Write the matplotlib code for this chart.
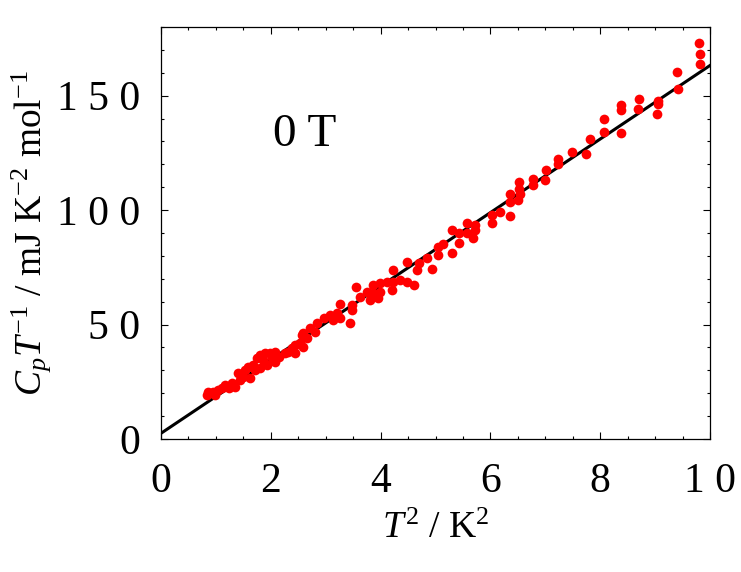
import matplotlib
matplotlib.use("Agg")
import matplotlib.pyplot as plt
from matplotlib.ticker import MultipleLocator

plt.rcParams["font.family"] = ["Liberation Serif", "DejaVu Serif"]
plt.rcParams["mathtext.fontset"] = "custom"
plt.rcParams["mathtext.rm"] = "Liberation Serif"
plt.rcParams["mathtext.it"] = "Liberation Serif:italic"

T2 = [
    0.83, 0.86, 0.95, 0.98, 1.04, 1.11, 1.17, 1.23, 1.29, 1.35,
    1.41, 1.44, 1.50, 1.53, 1.59, 1.62, 1.68, 1.71, 1.74, 1.80,
    1.80, 1.86, 1.89, 1.93, 1.99, 2.02, 2.08, 2.08, 2.14, 2.26,
    2.32, 2.38, 2.44, 2.44, 2.53, 2.56, 2.59, 2.59, 2.65, 2.71,
    2.81, 2.84, 2.96, 3.08, 3.14, 3.20, 3.26, 3.26, 3.44, 3.47,
    3.47, 3.56, 3.62, 3.75, 3.81, 3.87, 3.87, 3.96, 3.99, 3.99,
    4.11, 4.20, 4.23, 4.23, 4.35, 4.48, 4.48, 4.60, 4.66, 4.69,
    4.84, 4.93, 5.05, 5.05, 5.14, 5.30, 5.30, 5.42, 5.42, 5.57,
    5.57, 5.69, 5.72, 5.72, 6.02, 6.02, 6.17, 6.36, 6.36, 6.36,
    6.51, 6.52, 6.52, 6.54, 6.78, 6.78, 6.99, 7.01, 7.23, 7.23,
    7.48, 7.74, 7.81, 8.07, 8.07, 8.38, 8.38, 8.38, 8.69, 8.71,
    9.04, 9.05, 9.05, 9.40, 9.41, 9.80, 9.81, 9.81,
]
CP_T = [
    19.2, 20.6, 20.6, 19.2, 21.4, 22.1, 23.6, 22.1, 24.3, 22.8,
    28.7, 25.8, 27.2, 30.1, 31.6, 26.5, 32.3, 30.1, 35.2, 36.7,
    30.9, 34.5, 37.4, 32.3, 37.4, 35.2, 38.1, 33.7, 35.9, 37.4,
    38.1, 39.6, 41.0, 37.4, 41.8, 45.4, 40.3, 46.1, 44.0, 48.3,
    46.8, 50.5, 52.7, 54.1, 51.9, 54.9, 59.2, 52.7, 50.5, 58.5,
    56.3, 66.5, 62.1, 64.3, 60.7, 67.2, 63.6, 61.4, 68.0, 64.3,
    68.7, 65.0, 73.8, 68.7, 69.4, 77.4, 68.7, 67.2, 73.8, 76.7,
    78.9, 74.1, 83.9, 80.3, 85.4, 91.2, 81.1, 89.8, 85.7, 94.2,
    89.8, 87.6, 93.4, 91.2, 97.8, 94.2, 99.2, 107.2, 103.6, 97.5,
    104.3, 112.3, 109.4, 107.2, 113.8, 110.9, 113.1, 117.4, 122.5, 120.3,
    125.4, 124.7, 130.9, 140.0, 134.1, 145.8, 143.6, 133.9, 144.3, 148.7,
    141.9, 147.7, 146.2, 160.2, 153.1, 173.2, 168.0, 164.0,
]

# linear fit line end points
FIT_X = [0.0, 10.0]
FIT_Y = [2.5, 163.2]

X_TICKS = [0, 2, 4, 6, 8, 10]
X_TICK_LABELS = ["0", "2", "4", "6", "8", "1 0"]
Y_TICKS = [0, 50, 100, 150]
Y_TICK_LABELS = ["0", "5 0", "1 0 0", "1 5 0"]

FIELD_LABEL = "0 T"


def main():
    fig = plt.figure(figsize=(7.41, 5.72), dpi=100)
    ax = fig.add_axes([0.2173, 0.2325, 0.7409, 0.7203])

    ax.plot(FIT_X, FIT_Y, color="black", lw=2.2, zorder=2)
    ax.plot(T2, CP_T, "o", color="#ff0000", markersize=7,
            markeredgewidth=0, zorder=3)

    ax.set_xlim(0, 10)
    ax.set_ylim(0, 180)

    ax.set_xticks(X_TICKS)
    ax.set_xticklabels(X_TICK_LABELS)
    ax.set_yticks(Y_TICKS)
    ax.set_yticklabels(Y_TICK_LABELS)
    ax.xaxis.set_minor_locator(MultipleLocator(0.5))
    ax.yaxis.set_minor_locator(MultipleLocator(10))

    ax.tick_params(which="both", direction="in", top=True, right=True,
                   labelsize=30, width=0.8)
    ax.tick_params(which="major", length=5)
    ax.tick_params(which="minor", length=2.5)
    ax.tick_params(axis="x", which="major", pad=17)
    ax.tick_params(axis="y", which="major", pad=15)
    for sp in ax.spines.values():
        sp.set_linewidth(0.9)

    ax.set_xlabel(r"$T^2$ / K$^2$", fontsize=27)
    ax.set_ylabel(r"$C_pT^{-1}$ / mJ K$^{-2}$ mol$^{-1}$", fontsize=27)
    ax.xaxis.set_label_coords(0.5, -0.175)
    ax.yaxis.set_label_coords(-0.197, 0.5)

    ax.text(0.262, 0.738, FIELD_LABEL, transform=ax.transAxes,
            fontsize=34, ha="center", va="center")

    fig.savefig("out.png", dpi=100)
    plt.close(fig)


if __name__ == "__main__":
    main()
